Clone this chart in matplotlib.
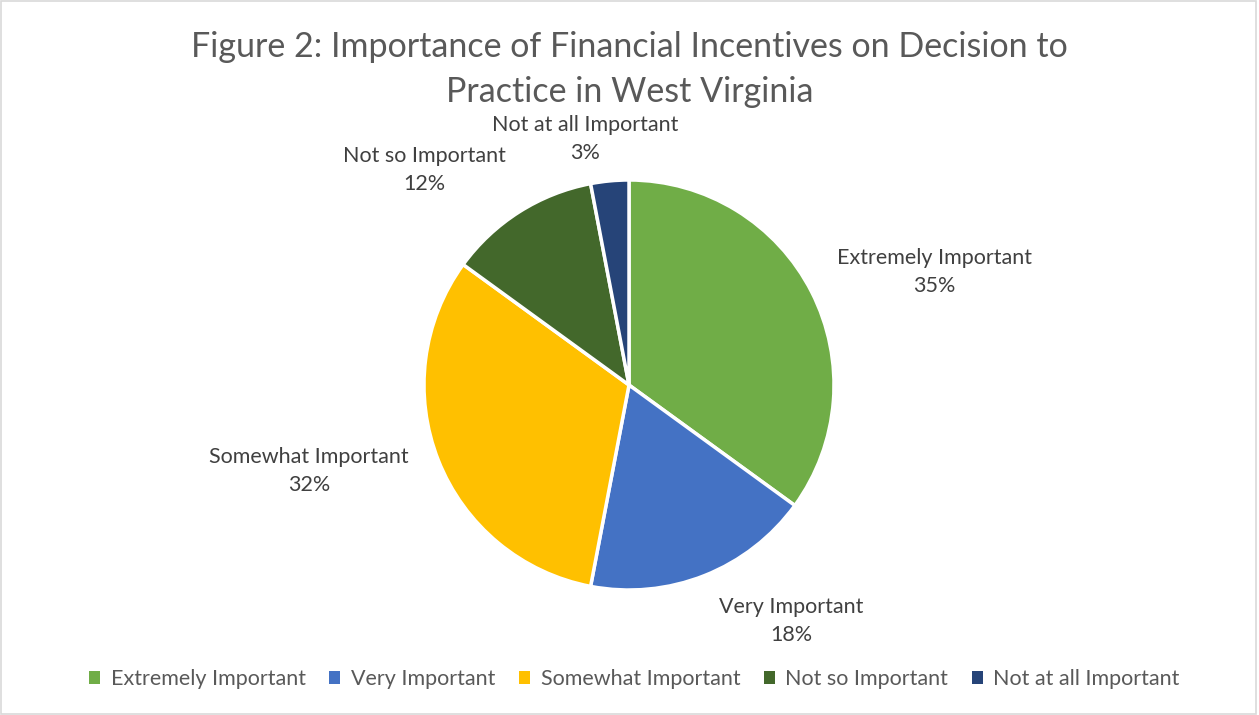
import matplotlib.pyplot as plt
from matplotlib.patches import Rectangle, Patch
import numpy as np

categories = ["Extremely Important", "Very Important", "Somewhat Important",
              "Not so Important", "Not at all Important"]
values = [35, 18, 32, 12, 3]
colors = ["#70AD47", "#4472C4", "#FFC000", "#43682B", "#264478"]

plt.rcParams['font.family'] = ['Lato', 'DejaVu Sans']

fig = plt.figure(figsize=(12.59, 7.15), dpi=100)
ax = fig.add_axes([0, 0, 1, 1])
ax.set_xlim(0, 1259)
ax.set_ylim(0, 715)
ax.set_aspect('equal')
ax.axis('off')

cx, cy, r = 629, 330, 205
wedges, _ = ax.pie(values, colors=colors, startangle=90, counterclock=False,
                   center=(cx, cy), radius=r,
                   wedgeprops=dict(edgecolor='white', linewidth=2.5))
ax.set_xlim(0, 1259)
ax.set_ylim(0, 715)

# label placement (offset from centre, in radii)
offsets = [(1.49, 0.55), (0.79, -1.15), (-1.56, -0.42), (-1.0, 1.05), (-0.215, 1.2)]
total = sum(values)
for (dx, dy), name, v in zip(offsets, categories, values):
    ax.text(cx + dx * r, cy + dy * r, f"{name}\n{v / total * 100:.0f}%",
            ha='center', va='center', fontsize=15.5, color='#404040',
            linespacing=1.5)

fig.text(0.5, 0.903, "Figure 2: Importance of Financial Incentives on Decision to\nPractice in West Virginia",
         ha='center', va='center', fontsize=24.5, color='#595959', linespacing=1.5)

handles = [Patch(facecolor=c, edgecolor='none') for c in colors]
fig.legend(handles, categories, loc='center', bbox_to_anchor=(0.504, 0.05), ncol=5,
           frameon=False, fontsize=15.5, handlelength=0.5, handleheight=0.5,
           handletextpad=0.5, columnspacing=1.1, labelcolor='#595959')

fig.patches.append(Rectangle((0.001, 0.001), 0.997, 0.997, transform=fig.transFigure,
                             fill=False, edgecolor='#D9D9D9', linewidth=1.2))

fig.savefig("out.png", dpi=100)
